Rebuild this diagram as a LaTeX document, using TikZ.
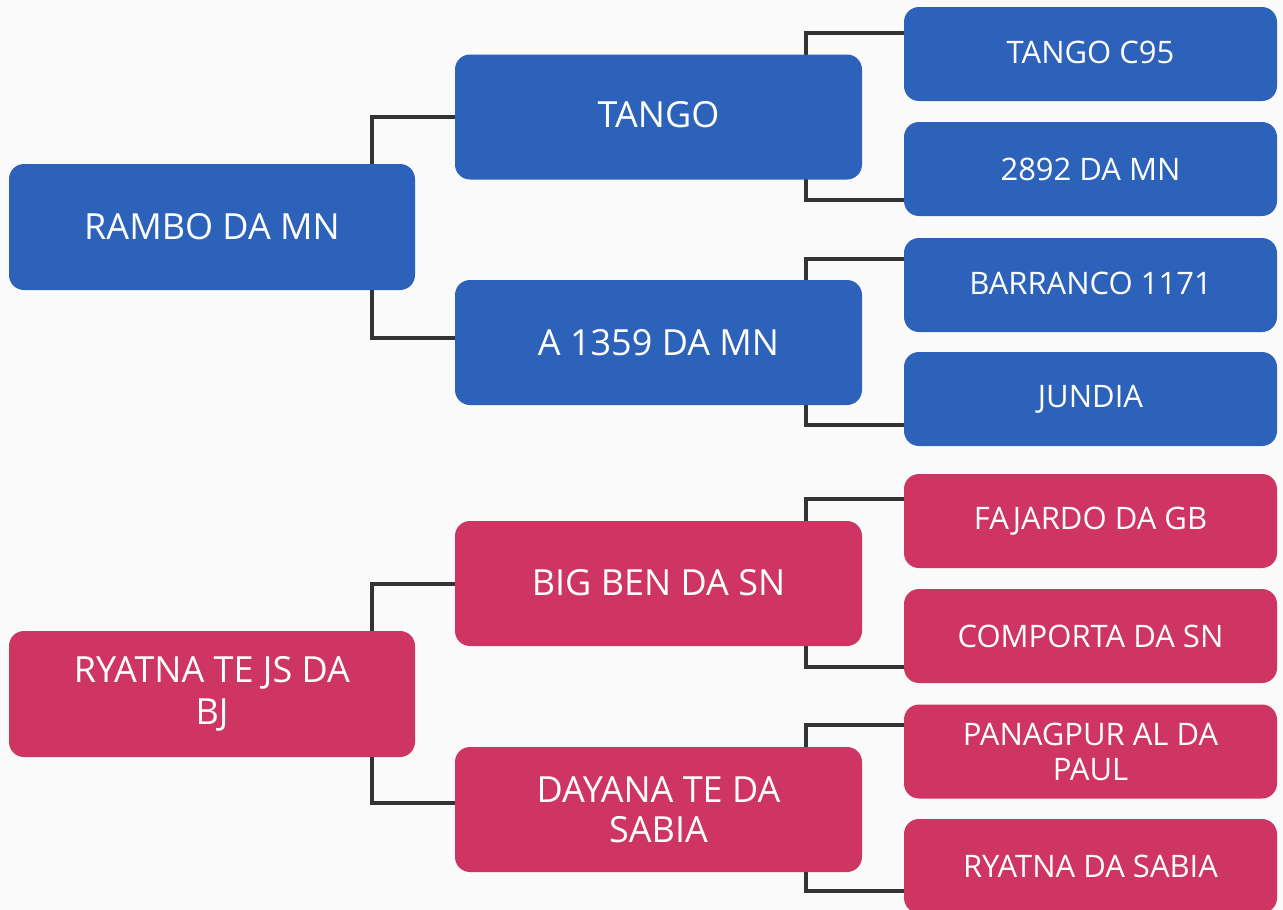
\documentclass[tikz,border=0pt]{standalone}
\usepackage{fontspec}
\setmainfont{Open Sans}
\pgfdeclarelayer{bg}
\pgfdeclarelayer{lines}
\pgfsetlayers{bg,lines,main}
\definecolor{bluebox}{HTML}{2D62BB}
\definecolor{pinkbox}{HTML}{CF3562}
\definecolor{linegray}{HTML}{333333}
\definecolor{paper}{HTML}{FAFAFA}
\tikzset{
  box/.style={fill=#1, draw=none, rounded corners=15pt, text=white, align=center, inner sep=0pt},
  rootbox/.style={box=#1, minimum width=406pt, minimum height=126pt, font=\fontsize{36}{42}\selectfont},
  midbox/.style={box=#1, minimum width=407pt, minimum height=125pt, font=\fontsize{36}{40}\selectfont},
  leafbox/.style={box=#1, minimum width=373pt, minimum height=94pt, font=\fontsize{31}{35}\selectfont},
  conn/.style={draw=linegray, line width=4pt, line cap=rect}
}
\begin{document}
\begin{tikzpicture}[x=1pt,y=-1pt]
\useasboundingbox (0,0) rectangle (1283,910);
\begin{pgfonlayer}{bg}
\fill[paper] (0,0) rectangle (1283,910);
\end{pgfonlayer}

% blue tree
\node[rootbox=bluebox] (r1) at (212,227) {RAMBO DA MN};
\node[midbox=bluebox] (m1) at (658.5,117) {\raisebox{5pt}{TANGO}};
\node[midbox=bluebox] (m2) at (658.5,342.5) {A 1359 DA MN};
\node[leafbox=bluebox] (l1) at (1090.5,54) {\raisebox{3pt}{TANGO C95}};
\node[leafbox=bluebox] (l2) at (1090.5,169) {2892 DA MN};
\node[leafbox=bluebox] (l3) at (1090.5,285) {\raisebox{3pt}{BARRANCO 1171}};
\node[leafbox=bluebox] (l4) at (1090.5,399) {JUNDIA};

% pink tree
\node[rootbox=pinkbox] (r2) at (212,694) {RYATNA TE JS DA\\BJ};
\node[midbox=pinkbox] (m3) at (658.5,583.5) {\raisebox{3pt}{BIG BEN DA SN}};
\node[midbox=pinkbox] (m4) at (658.5,809.5) {DAYANA TE DA\\SABIA};
\node[leafbox=pinkbox] (l5) at (1090.5,521) {\raisebox{2pt}{FAJARDO DA GB}};
\node[leafbox=pinkbox] (l6) at (1090.5,636) {COMPORTA DA SN};
\node[leafbox=pinkbox] (l7) at (1090.5,751.5) {PANAGPUR AL DA\\PAUL};
\node[leafbox=pinkbox] (l8) at (1090.5,866) {RYATNA DA SABIA};

\begin{pgfonlayer}{lines}
\draw[conn] (m1.west) -- ++(-83,0) |- ([yshift=4.5pt]m2.west);
\draw[conn] ([yshift=21pt]l1.west) -- ++(-98,0) |- ([yshift=-31pt]l2.west);
\draw[conn] ([yshift=26pt]l3.west) -- ++(-98,0) |- ([yshift=-26pt]l4.west);
\draw[conn] (m3.west) -- ++(-83,0) |- ([yshift=6.5pt]m4.west);
\draw[conn] ([yshift=22pt]l5.west) -- ++(-98,0) |- ([yshift=-31pt]l6.west);
\draw[conn] ([yshift=26.5pt]l7.west) -- ++(-98,0) |- ([yshift=-25pt]l8.west);
\end{pgfonlayer}
\end{tikzpicture}
\end{document}
